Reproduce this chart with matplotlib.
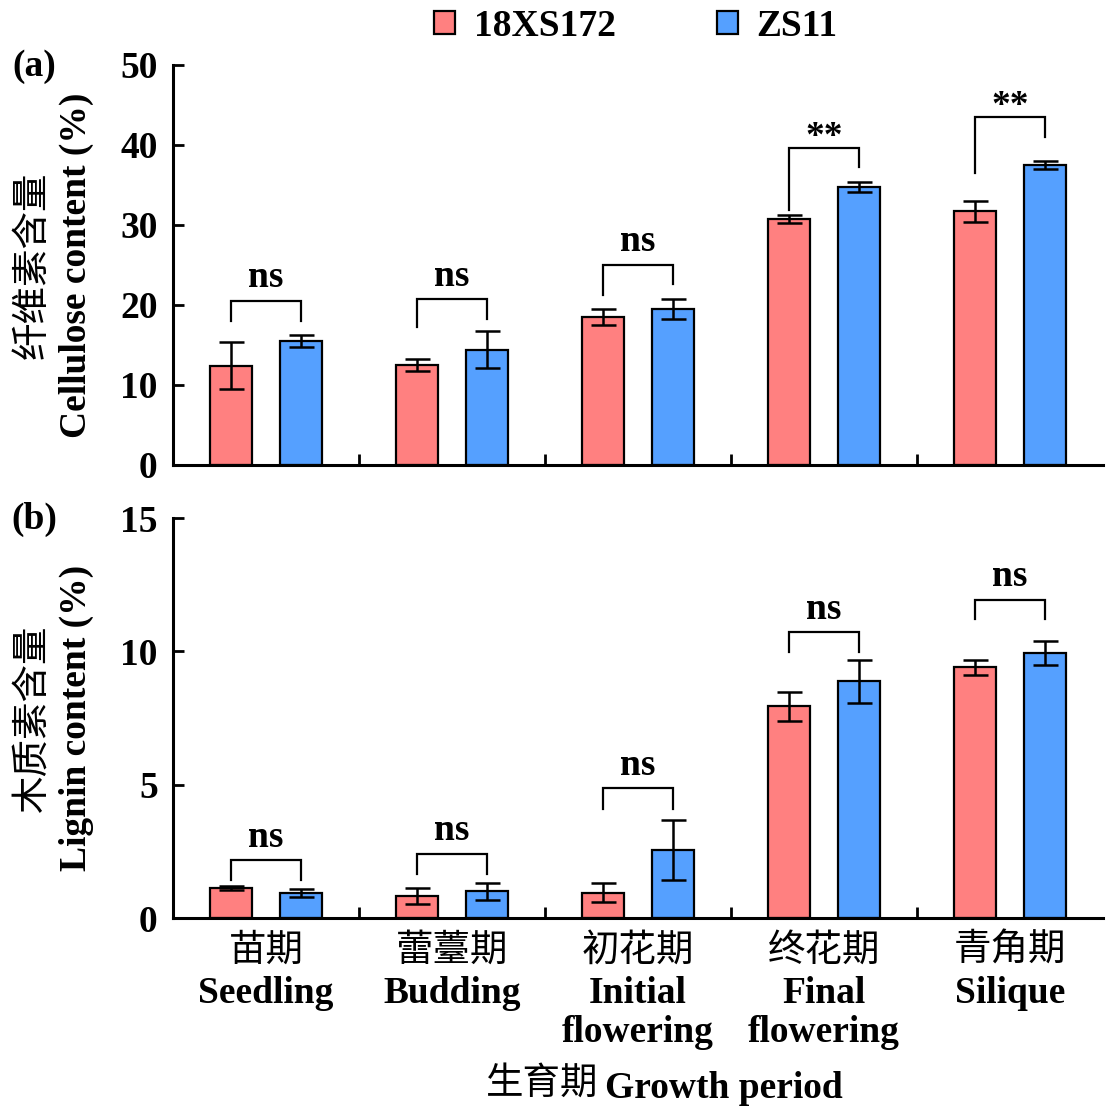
import numpy as np
import matplotlib
matplotlib.use("Agg")
import matplotlib.pyplot as plt
from matplotlib.patches import Patch
from matplotlib.transforms import blended_transform_factory

LAT = "Liberation Serif"
CJK = "Noto Sans CJK SC"
plt.rcParams['font.family'] = [LAT, CJK]
plt.rcParams['font.weight'] = 'bold'
plt.rcParams['font.size'] = 27

# data
stages_zh = ["苗期", "蕾薹期", "初花期", "终花期", "青角期"]
stages_en = ["Seedling", "Budding", "Initial\nflowering", "Final\nflowering", "Silique"]
groups = ["18XS172", "ZS11"]

cell_18 = [12.4, 12.5, 18.5, 30.7, 31.7]
cell_18_err = [2.95, 0.8, 1.05, 0.5, 1.3]
cell_zs = [15.5, 14.4, 19.5, 34.75, 37.5]
cell_zs_err = [0.8, 2.3, 1.2, 0.6, 0.5]
cell_sig = ["ns", "ns", "ns", "**", "**"]
cell_br_top = [20.5, 20.7, 25.0, 39.6, 43.5]
cell_br_left = [18.0, 17.3, 21.2, 31.9, 36.5]
cell_br_right = [18.0, 18.2, 22.6, 37.2, 41.0]

lig_18 = [1.12, 0.84, 0.95, 7.94, 9.4]
lig_18_err = [0.08, 0.3, 0.36, 0.55, 0.27]
lig_zs = [0.93, 1.0, 2.56, 8.875, 9.925]
lig_zs_err = [0.15, 0.33, 1.12, 0.8, 0.45]
lig_sig = ["ns", "ns", "ns", "ns", "ns"]
lig_br_top = [2.16, 2.39, 4.86, 10.71, 11.925]
lig_br_left = [1.44, 1.66, 4.1, 9.99, 11.2]
lig_br_right = [1.44, 1.66, 4.1, 9.99, 11.2]

RED = "#FF8080"
BLUE = "#55A0FF"

W, H = 1113, 1117
fig = plt.figure(figsize=(W / 100, H / 100), dpi=100)

def fx(px):
	return px / W

def fy(py):
	return 1 - py / H

OFF = 0.19
BW = 0.225
x = np.arange(len(stages_zh))

def draw(ax, v1, e1, v2, e2, sig, top, left, right, ymax, yticks):
	ekw = dict(elinewidth=1.8, capthick=1.8, ecolor='black')
	ax.bar(x - OFF, v1, BW, yerr=e1, color=RED, edgecolor='black', linewidth=1.6,
		capsize=9, error_kw=ekw)
	ax.bar(x + OFF, v2, BW, yerr=e2, color=BLUE, edgecolor='black', linewidth=1.6,
		capsize=9, error_kw=ekw)
	for i in range(len(x)):
		ax.plot([x[i] - OFF, x[i] - OFF, x[i] + OFF, x[i] + OFF],
			[left[i], top[i], top[i], right[i]], color='black', lw=1.6,
			solid_joinstyle='miter', clip_on=False)
		dy = 10 if sig[i] == "ns" else 1
		ax.annotate(sig[i], (x[i], top[i]), xytext=(0, dy), textcoords='offset points',
			ha='center', va='baseline', fontsize=27, fontweight='bold', family=LAT)
	ax.set_xlim(-0.5, 4.5)
	ax.set_ylim(0, ymax)
	ax.set_yticks(yticks)
	ax.set_xticks([])
	ax.set_xticks(x[:-1] + 0.5, minor=True)
	ax.tick_params(axis='y', direction='in', length=8, width=2, pad=11, labelsize=27)
	ax.tick_params(axis='x', which='minor', direction='in', length=8, width=2)
	for s in ['top', 'right']:
		ax.spines[s].set_visible(False)
	for s in ['left', 'bottom']:
		ax.spines[s].set_linewidth(2.2)

ax_a = fig.add_axes([fx(173), fy(465), fx(1103) - fx(173), fy(65) - fy(465)])
draw(ax_a, cell_18, cell_18_err, cell_zs, cell_zs_err, cell_sig,
	cell_br_top, cell_br_left, cell_br_right, 50, [0, 10, 20, 30, 40, 50])

ax_b = fig.add_axes([fx(173), fy(918), fx(1103) - fx(173), fy(518) - fy(918)])
draw(ax_b, lig_18, lig_18_err, lig_zs, lig_zs_err, lig_sig,
	lig_br_top, lig_br_left, lig_br_right, 15, [0, 5, 10, 15])

# y labels (chinese line + english line)
fig.text(fx(32), fy(265), "纤维素含量", rotation=90, ha='center', va='center',
	family=CJK, fontweight='normal', fontsize=27)
fig.text(fx(76), fy(265), "Cellulose content (%)", rotation=90, ha='center', va='center',
	family=LAT, fontweight='bold', fontsize=27)
fig.text(fx(32), fy(718), "木质素含量", rotation=90, ha='center', va='center',
	family=CJK, fontweight='normal', fontsize=27)
fig.text(fx(76), fy(718), "Lignin content (%)", rotation=90, ha='center', va='center',
	family=LAT, fontweight='bold', fontsize=27)

fig.text(fx(34), fy(66), "(a)", ha='center', va='center', family=LAT, fontweight='bold', fontsize=27)
fig.text(fx(34), fy(519), "(b)", ha='center', va='center', family=LAT, fontweight='bold', fontsize=27)

# x tick labels
tr = blended_transform_factory(ax_b.transData, fig.transFigure)
for i in range(len(x)):
	ax_b.text(x[i], fy(950), stages_zh[i], transform=tr, ha='center', va='center',
		family=CJK, fontweight='normal', fontsize=27)
	ax_b.text(x[i], fy(976), stages_en[i], transform=tr, ha='center', va='top',
		family=LAT, fontweight='bold', fontsize=27, linespacing=1.15)

fig.text(fx(598), fy(1083), "生育期", ha='right', va='center', family=CJK,
	fontweight='normal', fontsize=27)
fig.text(fx(605), fy(1098), "Growth period", ha='left', va='baseline', family=LAT,
	fontweight='bold', fontsize=27)

handles = [Patch(facecolor=RED, edgecolor='black', linewidth=1.6, label=groups[0]),
	Patch(facecolor=BLUE, edgecolor='black', linewidth=1.6, label=groups[1])]
fig.legend(handles=handles, loc='center', bbox_to_anchor=(fx(636), fy(26)), ncol=2,
	frameon=False, prop=dict(family=LAT, weight='bold', size=27),
	handlelength=0.55, handleheight=0.55, handletextpad=0.5, columnspacing=2.7,
	borderpad=0, borderaxespad=0)

fig.savefig("out.png", dpi=100)
